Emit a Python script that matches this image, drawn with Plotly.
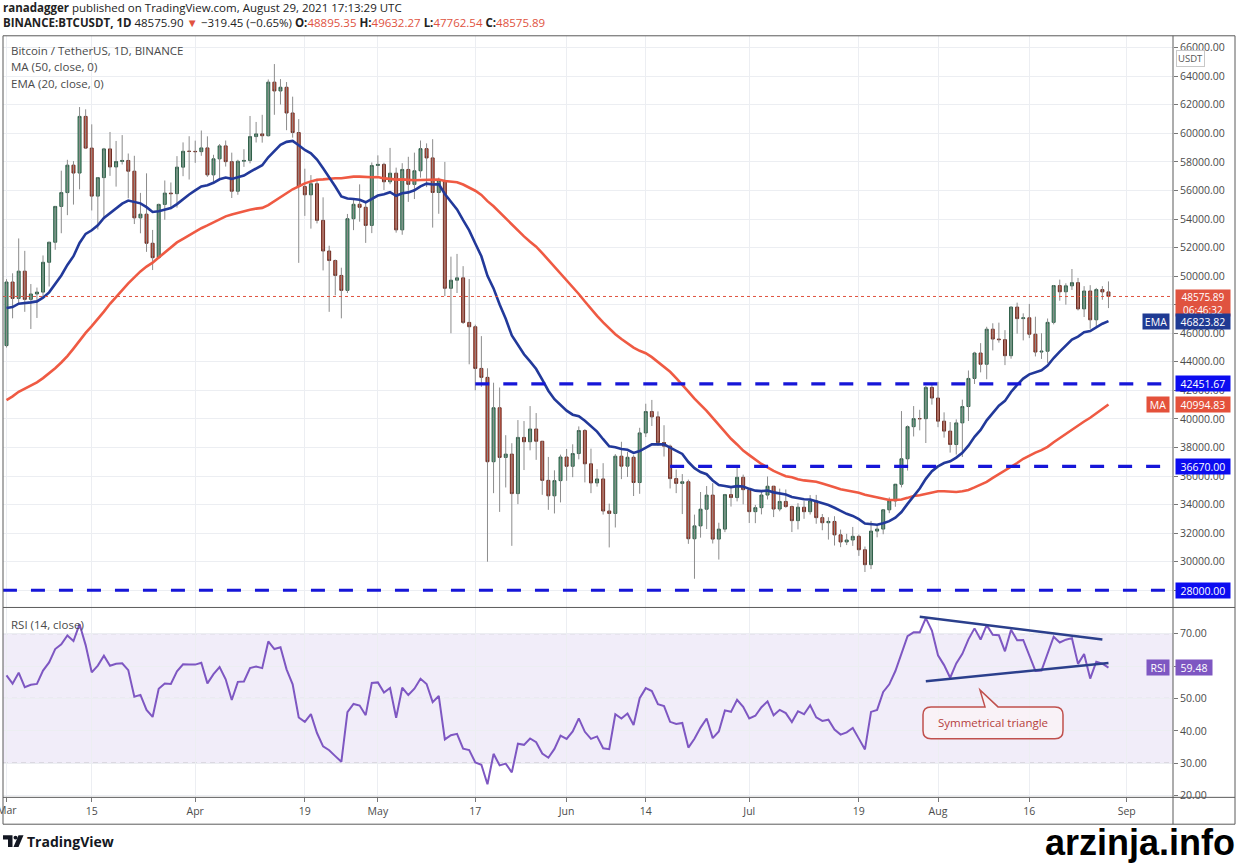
import pandas as pd
import plotly.graph_objects as go

W, H = 1238, 864

# closes Jan 1 - Feb 28 2021, only used to warm up MA50 / EMA20 / RSI14
warmup_closes = [
    29332, 32178, 33000, 31989, 33950, 36769, 39432, 40583, 40088, 38150,
    35404, 34051, 37371, 39145, 36742, 35995, 35829, 36631, 35891, 35468,
    30850, 32945, 32078, 32260, 32254, 32468, 30366, 33365, 34252, 34263,
    33093, 33526, 35466, 37619, 36937, 38290, 39187, 38796, 46375, 46420,
    44808, 47970, 47288, 47154, 48578, 47911, 49133, 52120, 51553, 55906,
    55841, 57409, 54088, 48891, 49676, 47074, 46277, 46106, 45136,
]

dates = pd.date_range('2021-03-01', '2021-08-29', freq='D')

opens = [
    # Mar
    45135, 49587, 48440, 50349, 48374, 48751, 48882, 50971, 52375, 54884, 55851,
    57773, 57221, 61188, 58968, 55605, 56900, 58912, 57648, 58030, 58102, 57351,
    54083, 54340, 52303, 51293, 55025, 55817, 55777, 57635, 58746,
    # Apr
    58740, 58720, 58981, 57094, 58216, 59123, 58019, 55947, 58048, 58102, 59774,
    59964, 59834, 63588, 62971, 63229, 61427, 60058, 56274, 55696, 56473, 53906,
    51762, 51093, 50050, 49004, 54021, 55033, 54824, 53555,
    # May
    57750, 57828, 56610, 57213, 53241, 57473, 56429, 57380, 58929, 58280, 55859,
    56704, 49150, 49716, 49880, 46760, 46456, 43538, 42910, 37002, 40782, 37304,
    37536, 34770, 38705, 38402, 39295, 38436, 35697, 34616, 35678,
    # Jun
    37332, 36684, 37575, 39188, 36856, 35520, 35796, 33552, 33380, 37389, 36693,
    37313, 35546, 39020, 40516, 40144, 38349, 38092, 35820, 35484, 35600, 31608,
    32509, 33678, 34663, 31584, 32283, 34700, 34494, 35911,
    # Jul
    35045, 33504, 33786, 34669, 35286, 33690, 34220, 33862, 32875, 33815, 33502,
    34259, 33086, 32729, 32820, 31880, 31383, 31520, 31778, 30839, 29790, 32144,
    32287, 33634, 34258, 35425, 37208, 39457, 40019, 40016, 42206,
    # Aug
    41461, 39845, 39147, 38207, 39723, 40867, 42836, 44614, 43829, 46285, 45595,
    45553, 44429, 47834, 47025, 47081, 45934, 44686, 44742, 46763, 49339, 48905,
    49321, 49546, 47707, 48960, 46942, 49058, 48895.35,
]

highs = [
    49790, 50200, 52640, 51773, 49448, 49200, 51450, 52402, 54900, 57387, 58150,
    58058, 61844, 61683, 60633, 56938, 58982, 60098, 59468, 59880, 58589, 58430,
    55830, 57200, 53237, 55073, 56700, 56559, 58405, 59368, 59800,
    59490, 60200, 59791, 58500, 59251, 59500, 58650, 58153, 58895, 61218, 60800,
    61300, 63774, 64854, 63800, 63594, 62572, 61000, 57526, 57076, 56818, 55521,
    52131, 51166, 50591, 54356, 55466, 56428, 55195, 57963,
    58458, 57941, 58981, 57600, 57911, 58360, 58650, 59500, 59300, 59592, 56900,
    58000, 51367, 51557, 50700, 49800, 46600, 45800, 43546, 42536, 42200, 38860,
    38300, 39920, 39850, 40900, 40411, 38437, 37338, 36400, 37499,
    37894, 38225, 39476, 39289, 37917, 36480, 36900, 34069, 37534, 38400, 37680,
    37453, 39380, 41064, 41330, 40527, 39559, 38202, 36457, 36137, 35750, 33298,
    34881, 35298, 35500, 32730, 34749, 35297, 36600, 36100,
    35057, 33977, 34945, 35967, 35293, 35118, 35059, 33929, 34100, 34262, 34666,
    34678, 33340, 33114, 33185, 32249, 31955, 32435, 31899, 31063, 32858, 32591,
    33650, 34500, 35398, 40550, 39542, 40900, 40640, 42316, 42448,
    42599, 40459, 39780, 39969, 41350, 43392, 44700, 45310, 46454, 46700, 46743,
    46218, 47886, 48144, 47395, 48053, 47160, 46000, 47033, 49382, 49757, 49500,
    50500, 49875, 49300, 49368, 49175, 49300, 49632.27,
]

lows = [
    45000, 47047, 48100, 47500, 46300, 47070, 48500, 49274, 51846, 53005, 54272,
    55012, 56078, 58966, 54600, 53272, 54123, 57023, 56270, 57820, 55450, 53650,
    53000, 51700, 50427, 51214, 53950, 54691, 54800, 57000, 56769,
    57935, 58428, 56956, 56478, 56817, 57673, 55473, 55700, 57654, 57903, 59360,
    59350, 59791, 61301, 62020, 60222, 59700, 50931, 54221, 53329, 53695, 50400,
    47500, 48657, 47044, 48817, 53222, 53813, 52330, 53013,
    57052, 56035, 56438, 53046, 52900, 55200, 55400, 56900, 56235, 53400, 54370,
    48600, 46000, 48819, 46650, 43825, 42001, 42250, 30000, 34800, 33488, 35200,
    31111, 34031, 36420, 37800, 37134, 34684, 33632, 33380, 34153,
    35666, 35920, 37170, 35555, 34800, 35258, 33300, 31000, 32396, 35782, 35936,
    34600, 34757, 38730, 39506, 38116, 37365, 35129, 34803, 33336, 31251, 28805,
    31683, 32286, 31275, 30151, 32071, 33862, 34225, 34017,
    32711, 32699, 33316, 34357, 33125, 33532, 33777, 32077, 32261, 33004, 33306,
    32658, 32202, 31550, 31133, 31020, 31165, 31108, 30407, 29278, 29482, 31708,
    31924, 33401, 33851, 35205, 36383, 38772, 39200, 38313, 41000,
    39422, 38690, 37642, 37508, 37332, 39853, 42446, 43261, 42779, 44800, 45341,
    43770, 44217, 45971, 45500, 45660, 44376, 44203, 43927, 46622, 48280, 48003,
    49031, 47600, 47137, 46315, 46371, 48345, 47762.54,
]

closes = [
    49587, 48440, 50349, 48374, 48751, 48882, 50971, 52375, 54884, 55851, 57773,
    57221, 61188, 58968, 55605, 56900, 58912, 57648, 58030, 58102, 57351, 54083,
    54340, 52303, 51293, 55025, 55817, 55777, 57635, 58746, 58740,
    58720, 58981, 57094, 58216, 59123, 58019, 55947, 58048, 58102, 59774, 59964,
    59834, 63588, 62971, 63229, 61427, 60058, 56274, 55696, 56473, 53906, 51762,
    51093, 50050, 49004, 54021, 55033, 54824, 53555, 57750,
    57828, 56610, 57213, 53241, 57473, 56429, 57380, 58929, 58280, 55859, 56704,
    49150, 49716, 49880, 46760, 46456, 43538, 42910, 37002, 40782, 37304, 37536,
    34770, 38705, 38402, 39295, 38436, 35697, 34616, 35678, 37332,
    36684, 37575, 39188, 36856, 35520, 35796, 33552, 33380, 37389, 36693, 37313,
    35546, 39020, 40516, 40144, 38349, 38092, 35820, 35484, 35600, 31608, 32509,
    33678, 34663, 31584, 32283, 34700, 34494, 35911, 35045,
    33504, 33786, 34669, 35286, 33690, 34220, 33862, 32875, 33815, 33502, 34259,
    33086, 32729, 32820, 31880, 31383, 31520, 31778, 30839, 29790, 32144, 32287,
    33634, 34258, 35425, 37208, 39457, 40019, 40016, 42206, 41461,
    39845, 39147, 38207, 39723, 40867, 42836, 44614, 43829, 46285, 45595, 45553,
    44429, 47834, 47025, 47081, 45934, 44686, 44742, 46763, 49339, 48905, 49321,
    49546, 47707, 48960, 46942, 49058, 48895, 48575.89,
]

tick_dates = ['2021-03-01', '2021-03-15', '2021-04-01', '2021-04-19', '2021-05-01',
              '2021-05-17', '2021-06-01', '2021-06-14', '2021-07-01', '2021-07-19',
              '2021-08-01', '2021-08-16', '2021-09-01']
tick_text = ['Mar', '15', 'Apr', '19', 'May', '17', 'Jun', '14', 'Jul', '19', 'Aug', '16', 'Sep']

# horizontal levels drawn by the author
levels = [42451.67, 36670.00, 28000.00]
level_starts = ['2021-05-17', '2021-06-18', '2021-02-28 10:00']

# RSI triangle trendlines
tri_upper_x = ['2021-07-29', '2021-08-28']
tri_upper_y = [75.2, 68.2]
tri_lower_x = ['2021-07-30', '2021-08-29']
tri_lower_y = [55.3, 60.9]

last_price = 48575.89
ema_last = 46823.82
ma_last = 40994.83
rsi_last = 59.48

assert len(dates) == len(opens) == len(highs) == len(lows) == len(closes)

# ---- indicators, as TradingView computes them ----
n = len(closes)
all_close = pd.Series(warmup_closes + closes, dtype=float)
ma50 = all_close.rolling(50).mean().iloc[-n:].values
ema20 = all_close.ewm(span=20, adjust=False).mean().iloc[-n:].values
delta = all_close.diff()
gain = delta.clip(lower=0).ewm(alpha=1 / 14, adjust=False).mean()
loss = (-delta.clip(upper=0)).ewm(alpha=1 / 14, adjust=False).mean()
rsi = (100 - 100 / (1 + gain / loss)).iloc[-n:].values


def fx(p):
    return p / W


def fy(p):
    return 1 - p / H


X_RANGE = ['2021-02-28 10:12', '2021-09-08 14:24']
X_DOM = [fx(3), fx(1173)]

GREEN, GREEN_EDGE = '#5a9e7b', '#2e5e48'
RED, RED_EDGE = '#cf5039', '#6e2c22'
BLUE_LVL = '#1616d8'
TXT = '#4b4b4b'
GRID = '#eceef2'

body_top = [max(o, c) for o, c in zip(opens, closes)]
body_bot = [min(o, c) for o, c in zip(opens, closes)]
wick_x, wick_y = [], []
for d, lo, hi in zip(dates, lows, highs):
    wick_x += [d, d, None]
    wick_y += [lo, hi, None]

fig = go.Figure()

fig.add_trace(go.Scatter(x=wick_x, y=wick_y, mode='lines',
                         line=dict(color='#8c8c8c', width=1), hoverinfo='skip',
                         xaxis='x', yaxis='y'))
fig.add_trace(go.Candlestick(
    x=dates, open=opens, high=body_top, low=body_bot, close=closes,
    increasing=dict(fillcolor=GREEN, line=dict(color=GREEN_EDGE, width=1)),
    decreasing=dict(fillcolor=RED, line=dict(color=RED_EDGE, width=1)),
    whiskerwidth=0, xaxis='x', yaxis='y',
))
fig.add_trace(go.Scatter(x=dates, y=ma50, mode='lines',
                         line=dict(color='#ef5a43', width=2.6), xaxis='x', yaxis='y'))
fig.add_trace(go.Scatter(x=dates, y=ema20, mode='lines',
                         line=dict(color='#22399a', width=2.6), xaxis='x', yaxis='y'))

fig.add_trace(go.Scatter(x=dates, y=rsi, mode='lines',
                         line=dict(color='#7e57c2', width=2), xaxis='x2', yaxis='y2'))
for tx, ty in ((tri_upper_x, tri_upper_y), (tri_lower_x, tri_lower_y)):
    fig.add_trace(go.Scatter(x=tx, y=ty, mode='lines',
                             line=dict(color='#2b3f8c', width=2.5), xaxis='x2', yaxis='y2'))

shapes = []
# RSI band and its dashed guides
shapes.append(dict(type='rect', xref='x2', yref='y2', x0=X_RANGE[0], x1=X_RANGE[1],
                   y0=30, y1=70, fillcolor='#f1edf9', line_width=0, layer='below'))
for v in (70, 50, 30):
    shapes.append(dict(type='line', xref='x2', yref='y2', x0=X_RANGE[0], x1=X_RANGE[1],
                       y0=v, y1=v, line=dict(color='#9a9a9a', width=1, dash='5px,4px'),
                       layer='below'))
# last price dotted line
shapes.append(dict(type='line', xref='x', yref='y', x0=X_RANGE[0], x1=X_RANGE[1],
                   y0=last_price, y1=last_price,
                   line=dict(color='#e0533f', width=1, dash='dot')))
# author's horizontal levels
for lv, st in zip(levels, level_starts):
    shapes.append(dict(type='line', xref='x', yref='y', x0=st, x1=X_RANGE[1],
                       y0=lv, y1=lv, line=dict(color=BLUE_LVL, width=3.2, dash='14px,14px')))
# frame and pane separators
frame = '#5a5a5a'
shapes += [
    dict(type='rect', xref='paper', yref='paper', x0=fx(3), x1=fx(1235),
         y0=fy(829), y1=fy(36), line=dict(color=frame, width=1)),
    dict(type='line', xref='paper', yref='paper', x0=fx(1173), x1=fx(1173),
         y0=fy(829), y1=fy(36), line=dict(color=frame, width=1)),
    dict(type='line', xref='paper', yref='paper', x0=fx(3), x1=fx(1235),
         y0=fy(611), y1=fy(611), line=dict(color=frame, width=1)),
    dict(type='line', xref='paper', yref='paper', x0=fx(3), x1=fx(1235),
         y0=fy(802), y1=fy(802), line=dict(color=frame, width=1)),
]


def pt(x, y):
    return f'{fx(x):.5f},{fy(y):.5f}'


# callout box "Symmetrical triangle"
L, R, T, B, r = 923, 1063, 711, 743, 8
callout = (f'M {pt(L + r, T)} L {pt(985, T)} L {pt(980, 694)} L {pt(998, T)} '
           f'L {pt(R - r, T)} Q {pt(R, T)} {pt(R, T + r)} L {pt(R, B - r)} '
           f'Q {pt(R, B)} {pt(R - r, B)} L {pt(L + r, B)} Q {pt(L, B)} {pt(L, B - r)} '
           f'L {pt(L, T + r)} Q {pt(L, T)} {pt(L + r, T)} Z')
shapes.append(dict(type='path', xref='paper', yref='paper', path=callout,
                   fillcolor='rgba(255,246,246,0.55)', line=dict(color='#c0504d', width=1.5)))

# TradingView logo glyph
logo = '#131722'
shapes += [
    dict(type='path', xref='paper', yref='paper', fillcolor=logo, line_width=0,
         path=f'M {pt(3, 840)} L {pt(12.5, 840)} L {pt(12.5, 852)} L {pt(8, 852)} '
              f'L {pt(8, 844.5)} L {pt(3, 844.5)} Z'),
    dict(type='circle', xref='paper', yref='paper', fillcolor=logo, line_width=0,
         x0=fx(13.5), x1=fx(17.5), y0=fy(844.5), y1=fy(840.5)),
    dict(type='path', xref='paper', yref='paper', fillcolor=logo, line_width=0,
         path=f'M {pt(18.5, 840)} L {pt(23.5, 840)} L {pt(18.5, 852)} L {pt(13.5, 852)} Z'),
]

ann = []


def text(x, y, s, size=11.5, color=TXT, anchor='left'):
    ann.append(dict(xref='paper', yref='paper', x=fx(x), y=fy(y), text=s,
                    showarrow=False, xanchor=anchor, yanchor='middle',
                    font=dict(size=size, color=color)))


def tag(yval, s, bg, yref='y', x=1175, width=52, anchor='left'):
    ann.append(dict(xref='paper', yref=yref, x=fx(x), y=yval, text=s, showarrow=False,
                    xanchor=anchor, yanchor='middle', bgcolor=bg, width=width,
                    height=13, borderpad=1, font=dict(size=10.5, color='white')))


val = '#e0533f'
text(1, 8, '<b>ranadagger</b> published on TradingView.com, August 29, 2021 17:13:29 UTC',
     size=11.5, color='#222')
text(1, 23, f'<b>BINANCE:BTCUSDT, 1D</b> 48575.90 <span style="color:{val}">▼</span> '
            f'−319.45 (−0.65%) <b>O:</b><span style="color:{val}">48895.35</span> '
            f'<b>H:</b><span style="color:{val}">49632.27</span> '
            f'<b>L:</b><span style="color:{val}">47762.54</span> '
            f'<b>C:</b><span style="color:{val}">48575.89</span>',
     size=11.5, color='#222')
text(9, 51, 'Bitcoin / TetherUS, 1D, BINANCE', size=11.5, color='#4a4a4a')
text(9, 67, 'MA (50, close, 0)', size=11.5, color='#4a4a4a')
text(9, 84, 'EMA (20, close, 0)', size=11.5, color='#4a4a4a')
text(9, 628, 'RSI (14, close)', size=11.5, color='#4a4a4a')
text(993, 727, 'Symmetrical triangle', size=11.5, color='#b5403d', anchor='center')
text(25, 846, '<b>TradingView</b>', size=14, color=logo)
# first month label sits half outside the left edge, as in the screenshot
text(6.5, 815, 'Mar', size=10.5, color=TXT, anchor='center')
ann.append(dict(xref='paper', yref='paper', x=fx(1237), y=fy(847), text='<b>arzinja.info</b>',
                showarrow=False, xanchor='right', yanchor='middle',
                font=dict(size=36, color='black', family='Liberation Sans')))
# USDT badge on price scale
ann.append(dict(xref='paper', yref='paper', x=fx(1205), y=fy(50), text='USDT',
                showarrow=False, bgcolor='white', bordercolor='#c8c8c8', borderwidth=1,
                borderpad=1, font=dict(size=9.5, color='#555')))

# price-scale tags
ann.append(dict(xref='paper', yref='y', x=fx(1175), y=last_price, yshift=7,
                text='48575.89<br>06:46:32', showarrow=False, xanchor='left', yanchor='top',
                bgcolor='#e0533f', width=52, height=24, borderpad=1,
                font=dict(size=10, color='white')))
tag(ema_last, f'{ema_last:.2f}', '#1f3a93')
tag(ema_last, 'EMA', '#1f3a93', x=1170, width=24, anchor='right')
tag(levels[0], f'{levels[0]:.2f}', '#0c0cf0')
tag(ma_last, f'{ma_last:.2f}', '#e4513b')
tag(ma_last, 'MA', '#e4513b', x=1170, width=20, anchor='right')
tag(levels[1], f'{levels[1]:.2f}', '#0c0cf0')
tag(levels[2], f'{levels[2]:.2f}', '#0c0cf0')
tag(rsi_last, f'{rsi_last:.2f}', '#7e57c2', yref='y2', width=34)
tag(rsi_last, 'RSI', '#7e57c2', yref='y2', x=1170, width=20, anchor='right')

axis_font = dict(size=10.5, color=TXT)
fig.update_layout(
    width=W, height=H,
    margin=dict(l=0, r=0, t=0, b=0),
    paper_bgcolor='white', plot_bgcolor='white',
    font=dict(family='Open Sans, sans-serif', size=11, color=TXT),
    showlegend=False, hovermode=False,
    xaxis=dict(domain=X_DOM, anchor='y', range=X_RANGE, type='date',
               rangeslider=dict(visible=False), tickvals=tick_dates,
               showticklabels=False, showgrid=True, gridcolor=GRID, zeroline=False),
    yaxis=dict(domain=[fy(611), fy(36)], range=[26795, 66834], side='right',
               tickvals=list(range(28000, 66001, 2000)), tickformat='.2f',
               ticks='outside', ticklen=4, tickcolor='#777', tickfont=axis_font,
               showgrid=True, gridcolor=GRID, zeroline=False, anchor='x'),
    xaxis2=dict(domain=X_DOM, anchor='y2', range=X_RANGE, type='date',
                tickvals=tick_dates, ticktext=tick_text, ticks='outside', ticklen=4,
                tickcolor='#777', tickfont=axis_font, showgrid=True, gridcolor=GRID,
                zeroline=False),
    yaxis2=dict(domain=[fy(802), fy(611)], range=[19.48, 78.07], side='right',
                tickvals=[20, 30, 40, 50, 60, 70], tickformat='.2f',
                ticks='outside', ticklen=4, tickcolor='#777',
                tickfont=axis_font, showgrid=True, gridcolor=GRID, zeroline=False,
                anchor='x2'),
    shapes=shapes,
    annotations=ann,
)

# the page body has a default 8px margin; drop it so the figure fills the window
fig.write_html('out.html', config={'displayModeBar': False},
               post_script="document.body.style.margin='0px';")
